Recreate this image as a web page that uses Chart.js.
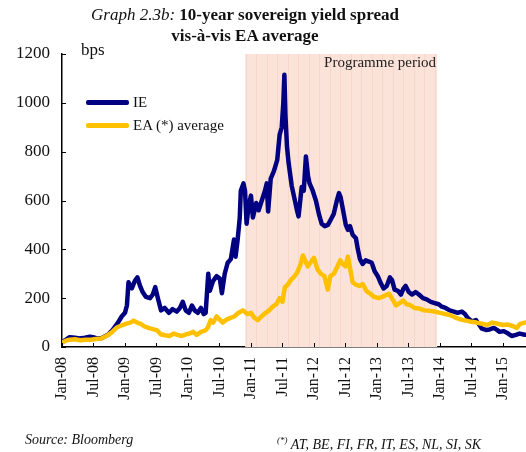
<!DOCTYPE html>
<html>
<head>
<meta charset="utf-8">
<script src="https://cdn.jsdelivr.net/npm/chart.js@4.4.1/dist/chart.umd.min.js"></script>
<style>
    body { margin: 0; background: #fff; }
    #wrap { position: relative; width: 526px; height: 452px; font-family: "Liberation Serif", "Times New Roman", serif; color: #111; }
    #chart { position: absolute; left: 0; top: 0; }
    .txt { position: absolute; white-space: nowrap; }
    #title { left: 0; width: 490px; top: 4px; text-align: center; font-size: 17px; line-height: 21px; }
    #title b { font-weight: bold; }
    .legend-item { position: absolute; left: 86px; font-size: 15px; height: 18px; line-height: 18px; }
    .legend-item span.swatch { display: inline-block; width: 43px; height: 5px; border-radius: 2px; vertical-align: middle; margin-right: 4px; margin-top: -2px; }
</style>
</head>
<body>
<div id="wrap">
    <canvas id="chart" width="526" height="452"></canvas>
    <div id="title" class="txt"><i>Graph 2.3b:</i> <b>10-year sovereign yield spread</b><br><b>vis-à-vis EA average</b></div>
    <div class="txt" style="left:81px; top:40px; font-size:17px;">bps</div>
    <div class="legend-item" style="top:93px;"><span class="swatch" style="background:#000080"></span>IE</div>
    <div class="legend-item" style="top:116px;"><span class="swatch" style="background:#FFC000"></span>EA (*) average</div>
    <div class="txt" style="left:25px; top:432px; font-size:14px;"><i>Source: Bloomberg</i></div>
    <div class="txt" style="left:277px; top:435px; font-size:14px;"><i><sup style="font-size:9px;">(*)</sup> AT, BE, FI, FR, IT, ES, NL, SI, SK</i></div>
</div>
<script>
// Eksen etiketleri
const tickLabels = ['Jan-08', 'Jul-08', 'Jan-09', 'Jul-09', 'Jan-10', 'Jul-10', 'Jan-11', 'Jul-11',
    'Jan-12', 'Jul-12', 'Jan-13', 'Jul-13', 'Jan-14', 'Jul-14', 'Jan-15'];

// Program dönemi
const programmeStart = '2010-11-28';
const programmeEnd = '2013-12-15';
const axisEnd = '2015-05-13';

// IE spread (bps)
const ieDates = [
    '2008-01-01', '2008-01-24', '2008-02-15', '2008-03-15', '2008-04-12', '2008-05-12', '2008-06-10', '2008-06-28',
    '2008-07-21', '2008-08-19', '2008-09-24', '2008-10-21', '2008-11-21', '2008-12-12', '2009-01-01', '2009-01-12',
    '2009-01-21', '2009-02-01', '2009-02-10', '2009-02-27', '2009-03-12', '2009-03-27', '2009-04-12', '2009-05-01',
    '2009-05-24', '2009-06-10', '2009-06-24', '2009-07-09', '2009-07-27', '2009-08-18', '2009-09-12', '2009-10-03',
    '2009-10-27', '2009-11-15', '2009-12-01', '2009-12-18', '2010-01-06', '2010-01-24', '2010-02-09', '2010-02-27',
    '2010-03-15', '2010-04-01', '2010-04-12', '2010-04-27', '2010-05-06', '2010-05-24', '2010-06-15', '2010-07-03',
    '2010-07-15', '2010-08-01', '2010-08-18', '2010-09-06', '2010-09-24', '2010-10-03', '2010-10-15', '2010-10-27',
    '2010-11-03', '2010-11-18', '2010-11-27', '2010-12-06', '2010-12-18', '2011-01-01', '2011-01-12', '2011-02-01',
    '2011-02-15', '2011-03-03', '2011-03-21', '2011-04-01', '2011-04-09', '2011-04-24', '2011-05-12', '2011-06-01',
    '2011-06-15', '2011-06-27', '2011-07-06', '2011-07-12', '2011-07-18', '2011-07-27', '2011-08-06', '2011-08-24',
    '2011-09-06', '2011-09-24', '2011-10-03', '2011-10-21', '2011-11-03', '2011-11-15', '2011-11-27', '2011-12-06',
    '2011-12-24', '2012-01-12', '2012-02-01', '2012-02-15', '2012-03-03', '2012-03-21', '2012-04-06', '2012-04-24',
    '2012-05-12', '2012-05-24', '2012-06-03', '2012-06-15', '2012-07-03', '2012-07-15', '2012-07-27', '2012-08-12',
    '2012-09-01', '2012-09-12', '2012-09-24', '2012-10-09', '2012-10-27', '2012-11-15', '2012-12-01', '2012-12-18',
    '2013-01-06', '2013-01-24', '2013-02-09', '2013-02-27', '2013-03-15', '2013-03-27', '2013-04-12', '2013-05-01',
    '2013-05-18', '2013-06-03', '2013-06-15', '2013-07-03', '2013-07-21', '2013-08-12', '2013-09-01', '2013-09-24',
    '2013-10-15', '2013-11-09', '2013-12-01', '2013-12-24', '2014-01-12', '2014-02-03', '2014-02-27', '2014-03-21',
    '2014-04-12', '2014-05-06', '2014-05-24', '2014-06-09', '2014-07-03', '2014-07-27', '2014-08-12', '2014-09-01',
    '2014-09-24', '2014-10-15', '2014-11-09', '2014-11-27', '2014-12-12', '2015-01-06', '2015-02-01', '2015-02-21',
    '2015-03-15', '2015-04-06', '2015-05-06'
];
const ieValues = [
    20, 30, 40, 38, 35, 38, 42, 40,
    35, 37, 50, 70, 100, 125, 140, 170,
    265, 250, 240, 270, 285, 250, 225, 205,
    200, 215, 245, 200, 150, 160, 140, 155,
    145, 160, 185, 150, 140, 170, 150, 140,
    160, 135, 140, 300, 230, 270, 290, 280,
    220, 300, 345, 360, 440, 370, 440, 530,
    640, 670, 640, 505, 580, 620, 530, 590,
    560, 600, 640, 670, 555, 690, 720, 765,
    870, 900, 1000, 1115, 950, 820, 755, 660,
    620, 560, 535, 655, 640, 780, 700, 670,
    640, 600, 540, 505, 495, 500, 520, 545,
    600, 630, 615, 570, 500, 480, 495, 460,
    445, 400, 360, 340, 355, 350, 345, 310,
    290, 260, 240, 250, 285, 275, 235, 230,
    215, 240, 250, 225, 215, 225, 215, 200,
    195, 185, 180, 175, 165, 160, 150, 145,
    140, 145, 135, 120, 105, 110, 95, 75,
    70, 72, 78, 70, 62, 65, 55, 45,
    50, 55, 50
];

// EA ortalaması (bps)
const eaDates = [
    '2008-01-01', '2008-01-20', '2008-02-15', '2008-03-15', '2008-04-15', '2008-05-15', '2008-06-15', '2008-07-15',
    '2008-08-15', '2008-09-15', '2008-10-15', '2008-11-15', '2008-12-10', '2009-01-05', '2009-02-01', '2009-02-20',
    '2009-03-10', '2009-04-01', '2009-04-20', '2009-05-15', '2009-06-15', '2009-07-05', '2009-07-25', '2009-08-20',
    '2009-09-15', '2009-10-10', '2009-11-01', '2009-11-25', '2009-12-20', '2010-01-10', '2010-02-01', '2010-02-20',
    '2010-03-15', '2010-04-10', '2010-04-25', '2010-05-10', '2010-05-25', '2010-06-15', '2010-07-05', '2010-07-20',
    '2010-08-10', '2010-09-01', '2010-09-25', '2010-10-20', '2010-11-15', '2010-12-10', '2011-01-01', '2011-01-20',
    '2011-02-10', '2011-03-01', '2011-03-25', '2011-04-15', '2011-05-05', '2011-05-25', '2011-06-15', '2011-07-01',
    '2011-07-15', '2011-08-01', '2011-08-20', '2011-09-10', '2011-09-25', '2011-10-15', '2011-10-28', '2011-11-10',
    '2011-11-25', '2011-12-10', '2012-01-01', '2012-01-20', '2012-02-10', '2012-03-01', '2012-03-20', '2012-04-05',
    '2012-04-25', '2012-05-15', '2012-06-01', '2012-06-15', '2012-07-01', '2012-07-15', '2012-07-28', '2012-08-12',
    '2012-09-01', '2012-09-20', '2012-10-10', '2012-10-30', '2012-11-20', '2012-12-15', '2013-01-10', '2013-02-01',
    '2013-02-20', '2013-03-10', '2013-03-30', '2013-04-20', '2013-05-10', '2013-06-01', '2013-06-20', '2013-07-10',
    '2013-08-05', '2013-09-01', '2013-10-01', '2013-11-01', '2013-12-01', '2014-01-01', '2014-02-01', '2014-03-01',
    '2014-04-01', '2014-05-01', '2014-06-01', '2014-07-01', '2014-08-01', '2014-09-01', '2014-10-01', '2014-11-01',
    '2014-12-01', '2015-01-01', '2015-02-01', '2015-03-01', '2015-03-20', '2015-04-10', '2015-05-06'
];
const eaValues = [
    17, 25, 30, 32, 28, 30, 30, 33,
    35, 45, 60, 80, 88, 95, 100, 108,
    100, 95, 85, 78, 72, 68, 52, 48,
    45, 55, 50, 45, 52, 55, 62, 50,
    62, 68, 80, 110, 100, 125, 110, 100,
    112, 118, 125, 140, 150, 135, 140, 120,
    110, 125, 140, 150, 165, 175, 200, 185,
    245, 255, 275, 290, 305, 340, 375, 355,
    330, 345, 365, 320, 300, 290, 235, 290,
    300, 330, 355, 340, 330, 370, 320, 265,
    255, 250, 258, 230, 220, 205, 200, 205,
    212, 218, 195, 170, 180, 190, 175, 172,
    160, 158, 150, 148, 145, 140, 135, 130,
    120, 112, 108, 103, 100, 95, 90, 100,
    95, 90, 92, 85, 78, 95, 100
];

// Tarihi Ocak 2008'den itibaren ay sayısına çevir
function toMonth(dateStr) {
    const [y, m, d] = dateStr.split('-').map(Number);
    return (y - 2008) * 12 + (m - 1) + (d - 1) / 30;
}

function toPoints(dates, values) {
    return dates.map((d, i) => ({ x: toMonth(d), y: values[i] }));
}

// Program dönemi arka planı
const programmeBand = {
    id: 'programmeBand',
    beforeDatasetsDraw(chart) {
        const { ctx, chartArea, scales } = chart;
        const x1 = scales.x.getPixelForValue(toMonth(programmeStart));
        const x2 = scales.x.getPixelForValue(toMonth(programmeEnd));
        ctx.save();
        ctx.fillStyle = '#FBE3DA';
        ctx.fillRect(x1, chartArea.top, x2 - x1, chartArea.bottom - chartArea.top);
        // hafif dikey çizgiler (üç ayda bir)
        ctx.strokeStyle = '#F8D7CB';
        ctx.lineWidth = 1;
        for (let m = Math.ceil(toMonth(programmeStart)); m < toMonth(programmeEnd); m += 2) {
            const px = Math.round(scales.x.getPixelForValue(m)) + 0.5;
            ctx.beginPath();
            ctx.moveTo(px, chartArea.top);
            ctx.lineTo(px, chartArea.bottom);
            ctx.stroke();
        }
        ctx.fillStyle = '#222';
        ctx.font = '15px "Liberation Serif"';
        ctx.textAlign = 'right';
        ctx.textBaseline = 'middle';
        ctx.fillText('Programme period', x2 - 1, chartArea.top + 9);
        ctx.restore();
    }
};

// İçe dönük eksen çentikleri
const innerTicks = {
    id: 'innerTicks',
    afterDatasetsDraw(chart) {
        const { ctx, chartArea, scales } = chart;
        ctx.save();
        ctx.strokeStyle = '#000';
        ctx.lineWidth = 1;
        tickLabels.forEach((_, i) => {
            const px = Math.round(scales.x.getPixelForValue(i * 6)) + 0.5;
            ctx.beginPath();
            ctx.moveTo(px, chartArea.bottom);
            ctx.lineTo(px, chartArea.bottom - 4);
            ctx.stroke();
        });
        scales.y.ticks.forEach(t => {
            const py = Math.round(scales.y.getPixelForValue(t.value)) + 0.5;
            ctx.beginPath();
            ctx.moveTo(chartArea.left, py);
            ctx.lineTo(chartArea.left + 4, py);
            ctx.stroke();
        });
        ctx.restore();
    }
};

new Chart(document.getElementById('chart'), {
    type: 'line',
    data: {
        datasets: [{
            label: 'IE',
            data: toPoints(ieDates, ieValues),
            borderColor: '#000080',
            borderWidth: 4.5,
            order: 2
        }, {
            label: 'EA (*) average',
            data: toPoints(eaDates, eaValues),
            borderColor: '#FFC000',
            borderWidth: 4.5,
            order: 1
        }]
    },
    options: {
        responsive: false,
        animation: false,
        devicePixelRatio: 1,
        elements: {
            point: { radius: 0 },
            line: { tension: 0, borderJoinStyle: 'round', borderCapStyle: 'round' }
        },
        layout: { padding: { top: 54, right: 0, bottom: 0, left: 0 } },
        plugins: {
            legend: { display: false },
            tooltip: { enabled: false }
        },
        scales: {
            x: {
                type: 'linear',
                min: 0,
                max: toMonth(axisEnd),
                afterFit: scale => {
                    scale.height = 105;
                    scale.paddingLeft = 0;
                    scale.paddingRight = 0;
                },
                grid: { display: false, drawTicks: false },
                border: { display: true, color: '#000', width: 1.5 },
                ticks: {
                    stepSize: 6,
                    autoSkip: false,
                    maxRotation: 90,
                    minRotation: 90,
                    padding: 10,
                    color: '#111',
                    font: { family: 'Liberation Serif', size: 16 },
                    callback: value => tickLabels[value / 6] || ''
                }
            },
            y: {
                min: 0,
                max: 1200,
                afterFit: scale => {
                    scale.width = 62;
                    scale.paddingTop = 0;
                    scale.paddingBottom = 0;
                },
                grid: { display: false, drawTicks: false },
                border: { display: true, color: '#000', width: 1.5 },
                ticks: {
                    stepSize: 200,
                    padding: 12,
                    color: '#111',
                    font: { family: 'Liberation Serif', size: 17 },
                    callback: value => String(value)
                }
            }
        }
    },
    plugins: [programmeBand, innerTicks]
});
</script>
</body>
</html>
